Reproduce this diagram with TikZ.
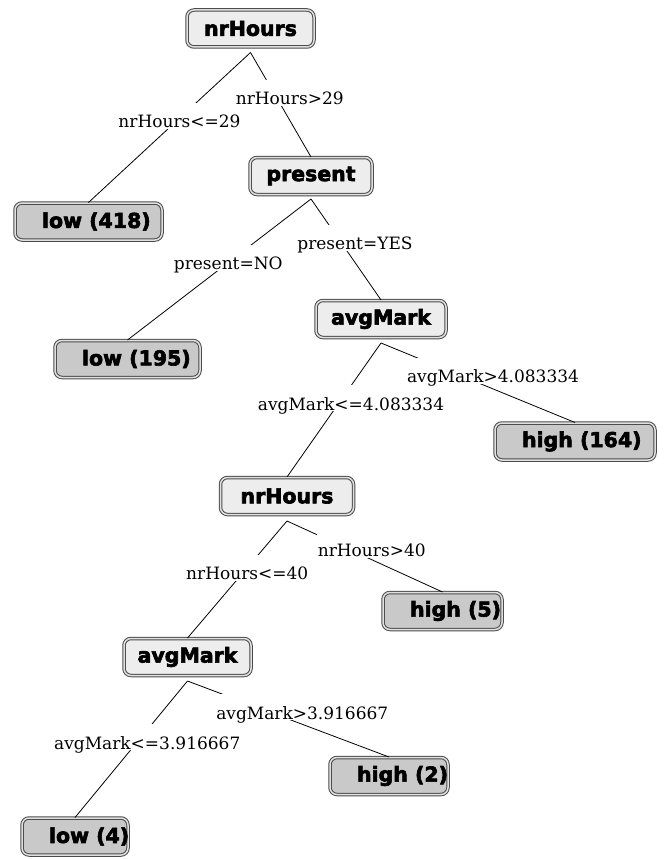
\documentclass[tikz,border=0pt]{standalone}
\usepackage{fontspec}
\setmainfont{DejaVu Serif}
\newfontfamily\boxfont[FakeBold=3]{DejaVu Sans Bold}
\usetikzlibrary{calc}

% leaf text: fixed box width, text set from a left indent
\newcommand\leaftxt[2]{\makebox[#1][l]{\hspace*{27pt}#2}}
% branch from an apex point to a child node, label at the middle
\newcommand\branch[4]{%
  \draw[link] (#1) -- (#2.north) node[lbl, pos=0.5, xshift=#3] {#4};}

\tikzset{
  tnode/.style={rounded corners=7pt, draw=black!70, double=white!88!black,
    double distance=1.5pt, line width=1pt, minimum height=37pt,
    inner sep=0pt, font=\boxfont\fontsize{20.5}{24}\selectfont},
  splitbox/.style={tnode, fill=black!7},
  leafbox/.style={tnode, fill=black!21},
  link/.style={draw=black, line width=0.8pt},
  lbl/.style={fill=white, font=\fontsize{17}{20}\selectfont, text height=24pt,
    text depth=0pt, inner ysep=1pt, inner xsep=1pt, anchor=base},
}

\begin{document}
\begin{tikzpicture}[x=1pt,y=-1pt]
\useasboundingbox[fill=white] (0,0) rectangle (664,859);

% decision nodes
\node[splitbox, minimum width=127pt] (n1) at (250.5,28.5) {nrHours};
\node[splitbox, minimum width=122pt] (n2) at (311,176) {present};
\node[splitbox, minimum width=130pt] (n3) at (381,319) {avgMark};
\node[splitbox, minimum width=133pt] (n4) at (287,496) {nrHours};
\node[splitbox, minimum width=127pt] (n5) at (187.5,657) {avgMark};

% leaves
\node[leafbox] (l1) at (88.5,221.5) {\leaftxt{147pt}{low (418)}};
\node[leafbox] (l2) at (127.5,359) {\leaftxt{145pt}{low (195)}};
\node[leafbox] (l3) at (575,441.5) {\leaftxt{160pt}{high (164)}};
\node[leafbox] (l4) at (442.5,611) {\leaftxt{119pt}{high (5)}};
\node[leafbox] (l5) at (389,776) {\leaftxt{118pt}{high (2)}};
\node[leafbox] (l6) at (75,836.5) {\leaftxt{106pt}{low (4)}};

% split points just below each decision node
\coordinate (a1) at ($(n1.south)+(0,5)$);
\coordinate (a2) at ($(n2.south)+(0,4)$);
\coordinate (a3) at ($(n3.south)+(0,5)$);
\coordinate (a4) at ($(n4.south)+(0,6)$);
\coordinate (a5) at ($(n5.south)+(0,5)$);

% branches
\branch{a1}{l1}{10}{nrHours<=29}
\branch{a1}{n2}{9}{nrHours>29}
\branch{a2}{l2}{9}{present=NO}
\branch{a2}{n3}{9}{present=YES}
\branch{a3}{n4}{17}{avgMark<=4.083334}
\branch{a3}{l3}{15}{avgMark>4.083334}
\branch{a4}{n5}{10}{nrHours<=40}
\branch{a4}{l4}{7}{nrHours>40}
\branch{a5}{l6}{16}{avgMark<=3.916667}
\branch{a5}{l5}{14}{avgMark>3.916667}
\end{tikzpicture}
\end{document}
